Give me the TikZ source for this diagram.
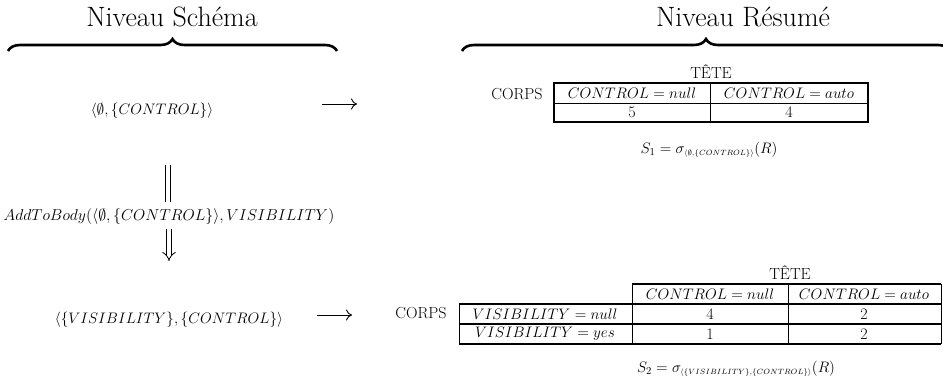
\RequirePackage{fix-cm}
\documentclass[tikz,border=0pt]{standalone}
\usetikzlibrary{decorations.pathreplacing,arrows.meta}
\begin{document}
\begin{tikzpicture}[x=1pt,y=-1pt,
  txt/.style={inner sep=0pt, font=\fontsize{16}{19}\selectfont},
  mtx/.style={inner sep=0pt, font=\fontsize{15.2}{18}\selectfont},
  ttl/.style={inner sep=0pt, font=\fontsize{28}{33}\selectfont},
  brc/.style={decorate, decoration={brace, amplitude=12pt}, line width=2.6pt},
  tblo/.style={line width=1.4pt},
  tbli/.style={line width=0.8pt},
  arr/.style={line width=0.9pt, -{To[length=6pt,width=11pt]}},
  vbar/.style={line width=0.8pt},
  imp/.style={double, double distance=4pt, line width=0.8pt, -{Implies[length=7pt]}}]
\clip (0,0) rectangle (943,389);
% titles and braces
\node[ttl] (t1) at (172,17) {Niveau Schéma};
\node[ttl] (t2) at (743,17) {Niveau Résumé};
\draw[brc] (8,51) -- (337,51);
\draw[brc] (462,51) -- (950,51);
% left column
\node[mtx] (s1) at (152,111) {$\langle\emptyset,\{CONTROL\}\rangle$};
\node[mtx, font=\fontsize{15.8}{18}\selectfont] (op) at (169,217) {$AddToBody(\langle\emptyset,\{CONTROL\}\rangle,VISIBILITY)$};
\node[mtx] (s2) at (169,320) {$\langle\{VISIBILITY\},\{CONTROL\}\rangle$};
\coordinate (b1) at (165,165); \coordinate (b2) at (165,202);
\coordinate (b3) at (170,165); \coordinate (b4) at (170,202);
\draw[vbar] (b1) -- (b2);
\draw[vbar] (b3) -- (b4);
\coordinate (d1) at (169,229); \coordinate (d2) at (169,261);
\draw[imp] (d1) -- (d2);
% arrows to the right
\coordinate (a1) at (322,104); \coordinate (a2) at (357,104);
\draw[arr] (a1) -- (a2);
\coordinate (a3) at (317,315); \coordinate (a4) at (352,315);
\draw[arr] (a3) -- (a4);
% table 1
\node[txt] (h1) at (711,72) {TÊTE};
\node[txt] (c1) at (517,94) {CORPS};
\draw[tblo] (554,83) rectangle (868,122);
\draw[tbli] (554,103) -- (868,103);
\draw[tbli] (710,83) -- (710,122);
\node[mtx] at (632,93) {$CONTROL=null$};
\node[mtx] at (789,93) {$CONTROL=auto$};
\node[txt] at (632,112) {5};
\node[txt] at (789,112) {4};
\node[mtx] (f1) at (709,150) {$S_1=\sigma_{\scriptscriptstyle\langle\emptyset,\{CONTROL\}\rangle}(R)$};
% table 2
\node[txt] (h2) at (790,273) {TÊTE};
\node[txt] (c2) at (421,313) {CORPS};
\draw[tblo] (632,284) -- (941,284);
\draw[tblo] (459,304) -- (941,304);
\draw[tblo] (459,324) -- (941,324);
\draw[tblo] (459,344) -- (941,344);
\draw[tbli] (459,304) -- (459,344);
\draw[tbli] (632,284) -- (632,344);
\draw[tbli] (788,284) -- (788,344);
\draw[tbli] (941,284) -- (941,344);
\node[mtx] at (710,294) {$CONTROL=null$};
\node[mtx] at (864,294) {$CONTROL=auto$};
\node[mtx] at (545,314) {$VISIBILITY=null$};
\node[mtx] at (545,334) {$VISIBILITY=yes$};
\node[txt] at (710,314) {4};
\node[txt] at (864,314) {2};
\node[txt] at (710,334) {1};
\node[txt] at (864,334) {2};
\node[mtx] (f2) at (736,369) {$S_2=\sigma_{\scriptscriptstyle\langle\{VISIBILITY\},\{CONTROL\}\rangle}(R)$};
\end{tikzpicture}
\end{document}
